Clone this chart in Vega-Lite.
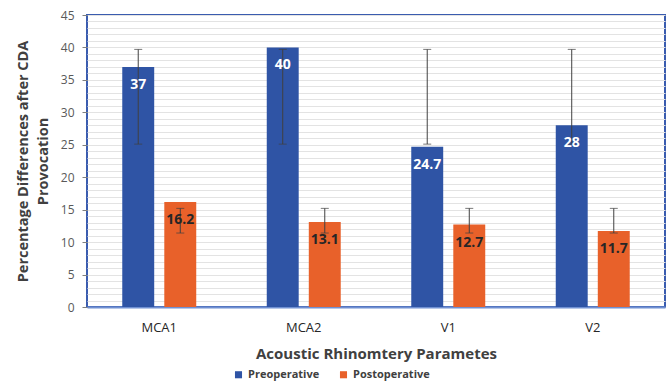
{
  "$schema": "https://vega.github.io/schema/vega-lite/v6.json",
  "width": 578,
  "height": 292,
  "autosize": "none",
  "padding": {"left": 87, "top": 15, "right": 5, "bottom": 75},
  "config": {
    "font": "Open Sans",
    "view": {"stroke": "#3A5CAF", "strokeWidth": 2}
  },
  "data": {
    "values": [
      {"param": "MCA1", "group": "Preoperative", "value": 37, "lo": 25.1, "hi": 39.7},
      {"param": "MCA2", "group": "Preoperative", "value": 40, "lo": 25.1, "hi": 39.7},
      {"param": "V1", "group": "Preoperative", "value": 24.7, "lo": 25.1, "hi": 39.7},
      {"param": "V2", "group": "Preoperative", "value": 28, "lo": 25.1, "hi": 39.7},
      {"param": "MCA1", "group": "Postoperative", "value": 16.2, "lo": 11.4, "hi": 15.2},
      {"param": "MCA2", "group": "Postoperative", "value": 13.1, "lo": 11.4, "hi": 15.2},
      {"param": "V1", "group": "Postoperative", "value": 12.7, "lo": 11.4, "hi": 15.2},
      {"param": "V2", "group": "Postoperative", "value": 11.7, "lo": 11.4, "hi": 15.2}
    ]
  },
  "encoding": {
    "x": {
      "field": "param",
      "type": "nominal",
      "sort": ["MCA1", "MCA2", "V1", "V2"],
      "scale": {"paddingInner": 0.488, "paddingOuter": 0.244},
      "axis": {
        "title": "Acoustic Rhinomtery Parametes",
        "titleFontSize": 15,
        "titleFontWeight": "bold",
        "titleColor": "#404040",
        "titlePadding": 12,
        "labelAngle": 0,
        "labelFontSize": 13,
        "labelColor": "#262626",
        "labelPadding": 14,
        "ticks": false,
        "domainColor": "#7090D2",
        "domainWidth": 2
      }
    },
    "xOffset": {
      "field": "group",
      "type": "nominal",
      "sort": ["Preoperative", "Postoperative"],
      "scale": {"paddingInner": 0.24, "paddingOuter": 0}
    }
  },
  "layer": [
    {
      "mark": {"type": "bar"},
      "encoding": {
        "y": {
          "field": "value",
          "type": "quantitative",
          "scale": {"domain": [0, 45], "nice": false},
          "axis": {
            "title": ["Percentage Differences after CDA", "Provocation"],
            "titleFontSize": 14.5,
            "titleFontWeight": "bold",
            "titleColor": "#404040",
            "titleLineHeight": 20,
            "titlePadding": 10,
            "values": [0,1,2,3,4,5,6,7,8,9,10,11,12,13,14,15,16,17,18,19,20,21,22,23,24,25,26,27,28,29,30,31,32,33,34,35,36,37,38,39,40,41,42,43,44,45],
            "tickCount": 100,
            "format": "d",
            "labelExpr": "datum.value % 5 === 0 ? datum.label : ''",
            "labelOverlap": false,
            "labelFontSize": 12,
            "labelColor": "#595959",
            "labelPadding": 8,
            "tickSize": 5,
            "tickColor": {"condition": {"test": "datum.value % 5 === 0", "value": "#7F7F7F"}, "value": "transparent"},
            "domain": false,
            "grid": true,
            "gridColor": "#E3E3E3",
            "gridWidth": 1
          }
        },
        "color": {
          "field": "group",
          "type": "nominal",
          "scale": {"domain": ["Preoperative", "Postoperative"], "range": ["#2F54A5", "#E8612A"]},
          "legend": {
            "title": null,
            "orient": "none",
            "direction": "horizontal",
            "legendX": 146,
            "legendY": 354,
            "symbolType": "square",
            "symbolSize": 50,
            "symbolStrokeWidth": 0,
            "labelFontSize": 11,
            "labelFontWeight": "bold",
            "labelColor": "#404040",
            "columnPadding": 18,
            "labelOffset": 4
          }
        }
      }
    },
    {
      "mark": {"type": "rule", "color": "#404040", "strokeWidth": 1},
      "encoding": {
        "y": {"field": "lo", "type": "quantitative"},
        "y2": {"field": "hi"}
      }
    },
    {
      "mark": {"type": "tick", "color": "#404040", "size": 8, "thickness": 1},
      "encoding": {
        "y": {"field": "lo", "type": "quantitative"}
      }
    },
    {
      "mark": {"type": "tick", "color": "#404040", "size": 8, "thickness": 1},
      "encoding": {
        "y": {"field": "hi", "type": "quantitative"}
      }
    },
    {
      "mark": {"type": "text", "dy": 18, "fontSize": 14, "fontWeight": "bold", "baseline": "middle"},
      "encoding": {
        "y": {"field": "value", "type": "quantitative"},
        "text": {"field": "value", "type": "quantitative"},
        "color": {"condition": {"test": "datum.group === 'Preoperative'", "value": "white"}, "value": "#262626"}
      }
    }
  ]
}
